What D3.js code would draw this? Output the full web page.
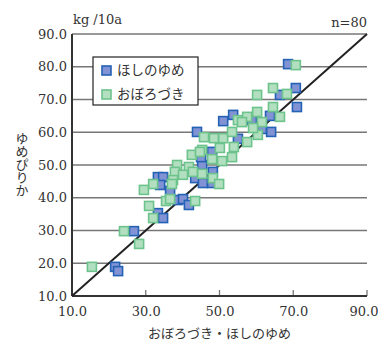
<!DOCTYPE html>
<html>
<head>
<meta charset="utf-8">
<script src="https://cdn.jsdelivr.net/npm/d3@7"></script>
<style>
  body { margin: 0; background: #fff; }
  svg { display: block; }
</style>
</head>
<body>
<svg id="chart"></svg>
<script>
const width = 378;
const height = 345;
const margin = { left: 72, right: 11, top: 34, bottom: 49 };

const seriesNames = ["ほしのゆめ", "おぼろづき"];
const tickValues = [10, 20, 30, 40, 50, 60, 70, 80, 90];
const xTickValues = [10, 30, 50, 70, 90];

// ほしのゆめ (x, y)
const hoshiX = [68.6, 70.7, 66.4, 71.0, 63.7, 51.0, 53.7, 43.9, 64.0, 45.3, 48.0, 48.2, 43.4, 45.5, 48.0, 45.0,
  33.3, 34.7, 33.9, 36.6, 38.7, 40.1, 41.7, 33.3, 34.7, 26.8, 21.7, 22.5, 58.8, 61.5, 55.0];
const hoshiY = [80.8, 73.5, 71.4, 67.7, 65.0, 63.4, 65.3, 60.1, 60.1, 50.0, 54.0, 47.9, 46.0, 44.5, 44.5, 52.4,
  46.3, 46.3, 43.9, 42.1, 39.3, 39.6, 37.8, 35.3, 33.8, 29.8, 18.9, 17.6, 63.7, 61.0, 58.0];

// おぼろづき (x, y)
const oboroX = [70.7, 64.5, 60.2, 68.3, 64.5, 66.4, 60.2, 61.5, 55.0, 57.5, 56.1, 60.4, 59.1, 45.8, 48.5, 51.0,
  53.4, 57.5, 53.9, 50.1, 45.3, 42.5, 53.4, 50.7, 48.0, 41.7, 42.8, 45.3, 48.2, 49.9, 43.4, 38.5,
  37.9, 37.4, 32.0, 29.5, 37.1, 30.9, 35.5, 36.6, 32.0, 24.1, 28.2, 15.4, 40.1, 44.7];
const oboroY = [80.5, 73.5, 71.4, 71.7, 67.7, 64.7, 66.2, 63.1, 63.7, 64.7, 63.1, 59.2, 61.3, 58.5, 58.2, 58.2,
  60.1, 57.0, 55.5, 55.2, 54.6, 53.1, 52.4, 51.2, 51.8, 49.4, 47.9, 47.3, 46.0, 44.2, 39.0, 50.0,
  47.9, 45.4, 44.2, 42.4, 44.2, 37.5, 39.0, 39.6, 33.8, 29.8, 25.9, 18.9, 47.0, 54.0];

const hoshi = hoshiX.map((x, i) => ({ x: x, y: hoshiY[i] }));
const oboro = oboroX.map((x, i) => ({ x: x, y: oboroY[i] }));

const styles = [
  { fill: "#8193d4", stroke: "#2462b5" },
  { fill: "#b3dfc1", stroke: "#6dc38c" }
];

const numFont = "'DejaVu Serif', serif";
const jpFont = "'Noto Sans CJK JP', sans-serif";

const svg = d3.select("#chart")
  .attr("width", width)
  .attr("height", height);

const xScale = d3.scaleLinear().domain([10, 90]).range([margin.left, width - margin.right]);
const yScale = d3.scaleLinear().domain([10, 90]).range([height - margin.bottom, margin.top]);

// gridlines
svg.append("g")
  .selectAll("line")
  .data(tickValues.slice(1))
  .enter().append("line")
  .attr("x1", xScale(10))
  .attr("x2", xScale(90))
  .attr("y1", d => yScale(d))
  .attr("y2", d => yScale(d))
  .attr("stroke", "#777")
  .attr("stroke-width", 1.3);

// y labels
svg.append("g")
  .selectAll("text")
  .data(tickValues)
  .enter().append("text")
  .attr("x", margin.left - 5)
  .attr("y", d => yScale(d))
  .attr("dy", "0.35em")
  .attr("text-anchor", "end")
  .style("font-family", numFont)
  .style("font-size", "13px")
  .style("fill", "#333")
  .text(d => d.toFixed(1));

// x axis
const xAxis = d3.axisBottom(xScale)
  .tickValues(xTickValues)
  .tickSize(0)
  .tickPadding(11)
  .tickFormat(d => d.toFixed(1));

const gx = svg.append("g")
  .attr("transform", `translate(0, ${yScale(10)})`)
  .call(xAxis);
gx.select(".domain").remove();
gx.selectAll("text")
  .style("font-family", numFont)
  .style("font-size", "13px")
  .style("fill", "#333");
// keep the last label inside the window
gx.selectAll(".tick").filter(d => d === 90).select("text")
  .attr("text-anchor", "end")
  .attr("x", 11);

// small inward ticks on x axis
svg.append("g")
  .selectAll("line")
  .data(xTickValues.slice(1))
  .enter().append("line")
  .attr("x1", d => xScale(d))
  .attr("x2", d => xScale(d))
  .attr("y1", yScale(10))
  .attr("y2", yScale(10) - 6)
  .attr("stroke", "#777")
  .attr("stroke-width", 1.3);

// axis lines
svg.append("line")
  .attr("x1", xScale(10)).attr("x2", xScale(90))
  .attr("y1", yScale(10)).attr("y2", yScale(10))
  .attr("stroke", "#333").attr("stroke-width", 2);
svg.append("line")
  .attr("x1", xScale(10)).attr("x2", xScale(10))
  .attr("y1", yScale(10)).attr("y2", yScale(90))
  .attr("stroke", "#333").attr("stroke-width", 2);

// 1:1 line
svg.append("line")
  .attr("x1", xScale(10)).attr("y1", yScale(10))
  .attr("x2", xScale(90)).attr("y2", yScale(90))
  .attr("stroke", "#222").attr("stroke-width", 2);

// points
const size = 9;
[hoshi, oboro].forEach((data, i) => {
  svg.append("g")
    .selectAll("rect")
    .data(data)
    .enter().append("rect")
    .attr("x", d => xScale(d.x) - size / 2)
    .attr("y", d => yScale(d.y) - size / 2)
    .attr("width", size)
    .attr("height", size)
    .attr("fill", styles[i].fill)
    .attr("stroke", styles[i].stroke)
    .attr("stroke-width", 1.6);
});

// legend
const legend = svg.append("g").attr("transform", "translate(93, 57)");
legend.append("rect")
  .attr("width", 105)
  .attr("height", 48)
  .attr("fill", "#fff")
  .attr("stroke", "#222")
  .attr("stroke-width", 1.2);
seriesNames.forEach((name, i) => {
  legend.append("rect")
    .attr("x", 9)
    .attr("y", 9 + i * 24)
    .attr("width", size)
    .attr("height", size)
    .attr("fill", styles[i].fill)
    .attr("stroke", styles[i].stroke)
    .attr("stroke-width", 1.6);
  legend.append("text")
    .attr("x", 24)
    .attr("y", 13.5 + i * 24)
    .attr("dy", "0.35em")
    .style("font-family", jpFont)
    .style("font-size", "13.5px")
    .style("fill", "#333")
    .text(name);
});

// unit & n
svg.append("text")
  .attr("x", 73).attr("y", 24)
  .style("font-family", numFont).style("font-size", "13px").style("fill", "#333")
  .text("kg /10a");
svg.append("text")
  .attr("x", 367).attr("y", 27)
  .attr("text-anchor", "end")
  .style("font-family", numFont).style("font-size", "13px").style("fill", "#333")
  .text("n=80");

// axis titles
svg.append("text")
  .attr("x", (xScale(10) + xScale(90)) / 2)
  .attr("y", 338)
  .attr("text-anchor", "middle")
  .style("font-family", jpFont).style("font-size", "13px").style("fill", "#333")
  .text("おぼろづき・ほしのゆめ");

svg.append("text")
  .attr("x", 22)
  .attr("y", 164)
  .attr("text-anchor", "middle")
  .attr("dominant-baseline", "central")
  .style("writing-mode", "vertical-rl")
  .style("font-family", jpFont).style("font-size", "13px").style("fill", "#333")
  .text("ゆめぴりか");
</script>
</body>
</html>
